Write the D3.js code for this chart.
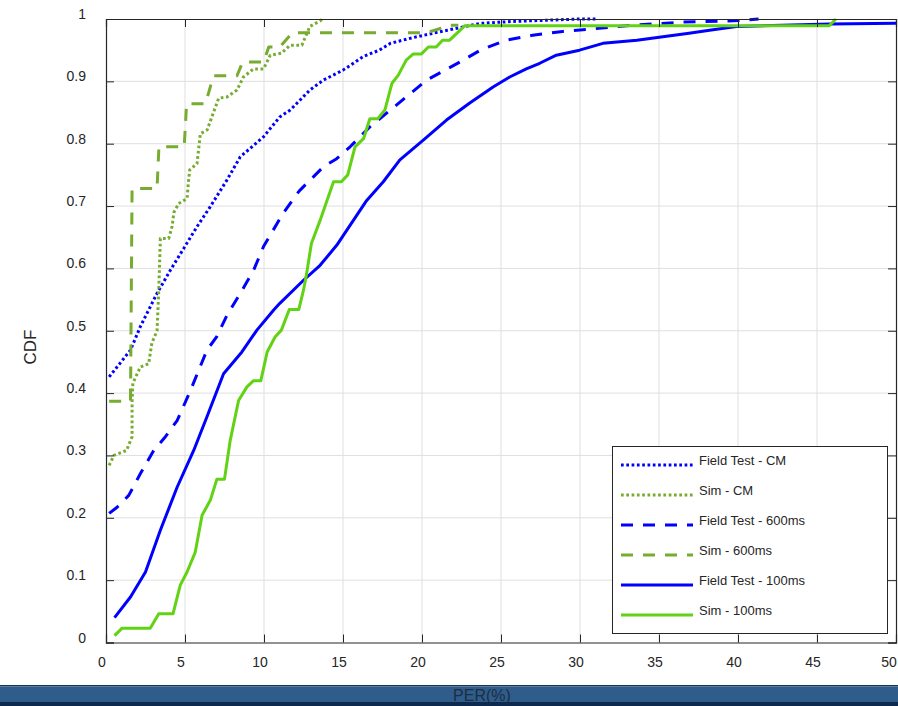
<!DOCTYPE html>
<html><head><meta charset="utf-8">
<script src="https://cdn.jsdelivr.net/npm/d3@7"></script>
<style>body{margin:0;background:#fff;}svg{display:block;font-family:"Liberation Sans",Arial,sans-serif;}</style>
</head><body>
<svg id="c" width="898" height="706"></svg>
<script>
const xTicks = [0,5,10,15,20,25,30,35,40,45,50];
const yTicks = [0,0.1,0.2,0.3,0.4,0.5,0.6,0.7,0.8,0.9,1];
const yTickLabels = ["0","0.1","0.2","0.3","0.4","0.5","0.6","0.7","0.8","0.9","1"];
const seriesNames = ["Field Test - CM","Sim - CM","Field Test - 600ms","Sim - 600ms","Field Test - 100ms","Sim - 100ms"];

const ftCM = [[0.2,0.426],[1.55,0.469],[2.18,0.507],[3.23,0.56],[4.07,0.597],[4.92,0.632],[5.76,0.667],[6.6,0.699],[7.66,0.742],[8.5,0.779],[9.97,0.811],[11.0,0.843],[11.66,0.854],[12.9,0.886],[13.76,0.902],[15.0,0.918],[16.3,0.94],[17.3,0.95],[18.0,0.961],[19.4,0.97],[21.6,0.982],[23.7,0.993],[25.7,0.996],[30.0,1.0],[31.0,1.0]];
const simCM = [[0.2,0.284],[0.5,0.30],[1.3,0.308],[1.65,0.33],[1.65,0.388],[1.7,0.416],[2.18,0.442],[2.7,0.447],[2.9,0.48],[3.23,0.50],[3.34,0.565],[3.44,0.648],[3.97,0.648],[4.18,0.667],[4.3,0.69],[4.6,0.704],[5.13,0.712],[5.23,0.742],[5.3,0.758],[5.76,0.768],[5.97,0.816],[6.4,0.822],[7.13,0.873],[7.66,0.875],[8.29,0.886],[8.7,0.907],[9.34,0.92],[9.97,0.92],[10.4,0.942],[11.1,0.945],[11.65,0.958],[12.4,0.958],[12.9,0.988],[13.55,0.997],[13.7,1.0]];
const ft600 = [[0.2,0.207],[0.7,0.217],[1.44,0.236],[2.18,0.271],[3.02,0.308],[3.76,0.33],[4.5,0.356],[4.7,0.367],[5.34,0.404],[6.39,0.469],[7.0,0.49],[7.66,0.525],[8.5,0.56],[9.34,0.597],[9.97,0.635],[11.2,0.688],[12.1,0.72],[12.3,0.726],[13.76,0.763],[14.6,0.776],[15.45,0.795],[16.7,0.827],[18.0,0.854],[19.0,0.875],[20.3,0.902],[22.4,0.931],[23.7,0.95],[25.3,0.966],[27.0,0.974],[28.9,0.98],[31.2,0.985],[33.3,0.99],[36.5,0.995],[39.7,0.997],[41.3,1.0]];
const sim600 = [[0.2,0.387],[1.55,0.387],[1.65,0.728],[3.23,0.728],[3.35,0.795],[4.95,0.795],[5.1,0.864],[6.3,0.864],[6.8,0.909],[8.29,0.909],[8.65,0.931],[9.97,0.931],[10.3,0.955],[11.0,0.955],[11.8,0.978],[20.3,0.978],[21.8,0.99],[22.3,0.99]];
const ft100 = [[0.54,0.04],[1.55,0.073],[2.5,0.113],[3.44,0.18],[4.5,0.249],[5.55,0.308],[6.39,0.362],[7.44,0.431],[8.6,0.466],[9.55,0.501],[10.6,0.533],[11.0,0.544],[12.5,0.581],[13.55,0.605],[14.6,0.637],[16.5,0.709],[17.55,0.739],[18.6,0.774],[20.1,0.806],[21.55,0.838],[23.0,0.865],[24.5,0.891],[25.55,0.907],[26.6,0.92],[27.45,0.929],[28.5,0.942],[29.97,0.95],[31.45,0.961],[33.6,0.966],[36.9,0.977],[38.2,0.982],[39.9,0.988],[42.8,0.99],[45.8,0.992],[50,0.993]];
const sim100 = [[0.54,0.011],[1.02,0.023],[2.8,0.023],[3.34,0.046],[4.24,0.046],[4.7,0.092],[5.13,0.113],[5.65,0.145],[6.08,0.204],[6.6,0.228],[7.02,0.262],[7.5,0.262],[7.86,0.324],[8.39,0.388],[8.92,0.41],[9.34,0.42],[9.8,0.42],[10.2,0.466],[10.7,0.49],[11.1,0.501],[11.6,0.534],[12.2,0.534],[12.5,0.565],[12.7,0.592],[13.0,0.64],[13.55,0.677],[14.4,0.739],[14.9,0.739],[15.3,0.75],[15.76,0.795],[16.3,0.808],[16.7,0.84],[17.2,0.84],[17.65,0.854],[18.1,0.897],[18.5,0.91],[19.0,0.934],[19.45,0.944],[19.97,0.944],[20.4,0.955],[20.9,0.955],[21.3,0.966],[21.75,0.966],[22.7,0.989],[45.76,0.989],[46.2,1.0]];

const seriesData = [ftCM, simCM, ft600, sim600, ft100, sim100];
const seriesColors = ["#0000ff","#77ac30","#0000ff","#77ac30","#0000ff","#62d214"];
const seriesDash = ["2.7,2.6","2.7,2.6","12,10","12,10",null,null];

const svg = d3.select("#c");
const L = 106, R = 896, T = 19, B = 642.5;
const x = d3.scaleLinear().domain([0,50]).range([L,R]);
const y = d3.scaleLinear().domain([0,1]).range([B,T]);
const ink = "#262626";

// grid
svg.append("g").selectAll("line.gx").data(xTicks.slice(1,-1)).join("line")
  .attr("x1",d=>x(d)).attr("x2",d=>x(d)).attr("y1",T).attr("y2",B)
  .attr("stroke","#dfdfdf").attr("stroke-width",1);
svg.append("g").selectAll("line.gy").data(yTicks.slice(1,-1)).join("line")
  .attr("x1",L).attr("x2",R).attr("y1",d=>y(d)).attr("y2",d=>y(d))
  .attr("stroke","#dfdfdf").attr("stroke-width",1);

// lines
const line = d3.line().x(d=>x(d[0])).y(d=>y(d[1]));
const plot = svg.append("g");
seriesData.forEach((s,i)=>{
  const p = plot.append("path").attr("d",line(s)).attr("fill","none")
    .attr("stroke",seriesColors[i]).attr("stroke-width",3).attr("stroke-linejoin","round");
  if (seriesDash[i]) p.attr("stroke-dasharray",seriesDash[i]);
});

// axes box and ticks
const axB = svg.append("g").attr("transform",`translate(0,${B})`)
  .call(d3.axisBottom(x).tickValues(xTicks).tickSize(-8).tickFormat(""));
const axT = svg.append("g").attr("transform",`translate(0,${T})`)
  .call(d3.axisTop(x).tickValues(xTicks).tickSize(-8).tickFormat(""));
const axL = svg.append("g").attr("transform",`translate(${L},0)`)
  .call(d3.axisLeft(y).tickValues(yTicks).tickSize(-8).tickFormat(""));
const axR = svg.append("g").attr("transform",`translate(${R},0)`)
  .call(d3.axisRight(y).tickValues(yTicks).tickSize(-8).tickFormat(""));
[axB,axT,axL,axR].forEach(a=>{
  a.selectAll("path.domain").attr("stroke",ink).attr("stroke-width",1.2);
  a.selectAll(".tick line").attr("stroke",ink).attr("stroke-width",1);
});

// tick labels
svg.append("g").selectAll("text").data(xTicks).join("text")
  .attr("x",d=>Math.min(x(d)-4, 889)).attr("y",B+19).attr("text-anchor","middle")
  .attr("dominant-baseline","central").attr("font-size",14).attr("fill",ink).text(d=>d);
svg.append("g").selectAll("text").data(yTicks).join("text")
  .attr("x",86).attr("y",d=>y(d)-5).attr("text-anchor","end")
  .attr("dominant-baseline","central").attr("font-size",14).attr("fill",ink)
  .text((d,i)=>yTickLabels[i]);

// y label
svg.append("text").attr("transform","translate(30,347) rotate(-90)")
  .attr("text-anchor","middle").attr("dominant-baseline","central")
  .attr("font-size",17).attr("fill",ink).text("CDF");

// legend
const lg = svg.append("g");
lg.append("rect").attr("x",612.5).attr("y",446.5).attr("width",275).attr("height",187)
  .attr("fill","#fff").attr("stroke",ink).attr("stroke-width",1);
seriesNames.forEach((n,i)=>{
  const ly = 465 + i*30;
  const l = lg.append("line").attr("x1",621).attr("x2",693).attr("y1",ly).attr("y2",ly)
    .attr("stroke",seriesColors[i]).attr("stroke-width",3);
  if (seriesDash[i]) l.attr("stroke-dasharray",seriesDash[i]);
  lg.append("text").attr("x",699).attr("y",ly-5).attr("dominant-baseline","central")
    .attr("font-size",13).attr("fill",ink).text(n);
});

// bottom bar
svg.append("rect").attr("x",0).attr("y",685).attr("width",898).attr("height",1.5).attr("fill","#17375c");
svg.append("rect").attr("x",0).attr("y",686.5).attr("width",898).attr("height",15.5).attr("fill","#2e5c8b");
svg.append("rect").attr("x",0).attr("y",702).attr("width",898).attr("height",4).attr("fill","#0d2a4e");
svg.append("text").attr("x",482).attr("y",695).attr("text-anchor","middle")
  .attr("dominant-baseline","central").attr("font-size",16).attr("fill","#1e2d40").text("PER(%)");
</script>
</body></html>
